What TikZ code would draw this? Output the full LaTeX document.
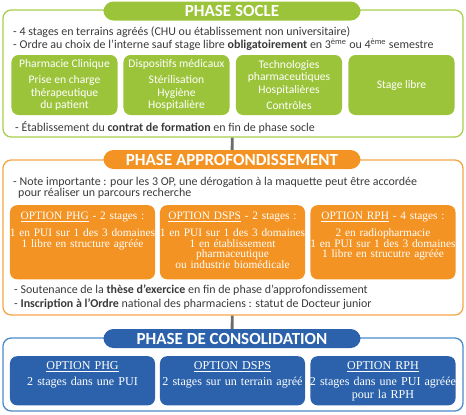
\documentclass[tikz,border=0pt]{standalone}
\usepackage{fontspec}
\setmainfont{Carlito}
\newfontfamily\optfont{Liberation Serif}
\usetikzlibrary{positioning}

\definecolor{socle}{HTML}{9CC43A}
\definecolor{socleline}{HTML}{A8CF4C}
\definecolor{appro}{HTML}{F39323}
\definecolor{approline}{HTML}{F5A546}
\definecolor{conso}{HTML}{2B62AB}
\definecolor{consoline}{HTML}{4A8ACB}
\definecolor{textgrey}{HTML}{3A3A3A}
\definecolor{linkgrey}{HTML}{6B6B6B}

\begin{document}
\begin{tikzpicture}[x=0.03cm, y=-0.03cm,
	frame/.style={draw, line width=1.1pt, rounded corners=7pt, minimum width=13.8cm, inner sep=0pt},
	title/.style={rounded corners=8.5pt, minimum width=7.71cm, minimum height=0.57cm, inner sep=0pt, text=white, font=\fontsize{14.5}{15}\selectfont\bfseries},
	line/.style={anchor=west, inner sep=0pt, text=textgrey, font=\fontsize{10.2}{11}\selectfont},
	soclebox/.style={fill=socle, rounded corners=6pt, minimum width=3.18cm, minimum height=1.8cm, align=center, text=white, inner sep=1pt, font=\fontsize{9.9}{10.7}\selectfont},
	optbox/.style={fill=appro, rounded corners=6pt, text width=5.2cm, inner xsep=-0.425cm, inner ysep=3pt, text height=8.9pt, text depth=48.3pt, align=center, text=white, font=\optfont\fontsize{9.7}{9}\selectfont},
	consobox/.style={fill=conso, rounded corners=6pt, text width=5.2cm, inner xsep=-0.425cm, inner ysep=3pt, text height=8pt, text depth=27.9pt, align=center, text=white, font=\optfont\fontsize{10.3}{11}\selectfont},
	link/.style={draw=linkgrey, line width=2.4pt}]

	\useasboundingbox (0,0) rectangle (466,415);

	% frames
	\node[frame, draw=socleline, minimum height=3.81cm] (socle) at (233,73.5) {};
	\node[frame, draw=approline, minimum height=4.65cm] (appro) at (233,237.5) {};
	\node[frame, draw=consoline, minimum height=2.19cm] (conso) at (233,374.5) {};

	% titles
	\node[title, fill=socle] (socletitle) at (232,11) {PHASE SOCLE};
	\node[title, fill=appro] (approtitle) at (232,159.5) {PHASE APPROFONDISSEMENT};
	\node[title, fill=conso] (consotitle) at (232,338.5) {PHASE DE CONSOLIDATION};

	% phase socle
	\node[line] (s1) at (13,32) {- 4 stages en terrains agréés (CHU ou établissement non universitaire)};
	\node[line] (s2) at (13,45) {- Ordre au choix de l’interne sauf stage libre \textbf{obligatoirement} en 3\textsuperscript{ème} ou 4\textsuperscript{ème} semestre};
	\node[soclebox] (g1) at (64.5,85) {Pharmacie Clinique\\[3pt]Prise en charge\\thérapeutique\\du patient};
	\node[soclebox] (g2) at (176.5,85) {Dispositifs médicaux\\[3pt]Stérilisation\\Hygiène\\Hospitalière};
	\node[soclebox] (g3) at (289,85) {Technologies\\pharmaceutiques\\Hospitalières\\[3pt]Contrôles};
	\node[soclebox] (g4) at (401.5,85) {Stage libre};
	\node[line] (s3) at (15,127) {- Établissement du \textbf{contrat de formation} en fin de phase socle};

	% phase approfondissement
	\node[line] (a1) at (13,182) {- Note importante : pour les 3 OP, une dérogation à la maquette peut être accordée};
	\node[line] (a2) at (18,193) {pour réaliser un parcours recherche};
	\node[optbox, anchor=north] (o1) at (82.5,205) {\underline{OPTION PHG} - 2 stages :\\[6pt]1 en PUI sur 1 des 3 domaines\\1 libre en structure agréée};
	\node[optbox, anchor=north] (o2) at (232.5,205) {\underline{OPTION DSPS} - 2 stages :\\[6pt]1 en PUI sur 1 des 3 domaines\\1 en établissement\\pharmaceutique\\ou industrie biomédicale};
	\node[optbox, anchor=north] (o3) at (383,205) {\underline{OPTION RPH} - 4 stages :\\[6pt]2 en radiopharmacie\\1 en PUI sur 1 des 3 domaines\\1 libre en strucutre agréée};
	\node[line] (a3) at (14,290) {- Soutenance de la \textbf{thèse d’exercice} en fin de phase d’approfondissement};
	\node[line] (a4) at (14,304) {- \textbf{Inscription à l’Ordre} national des pharmaciens : statut de Docteur junior};

	% phase de consolidation
	\node[consobox, anchor=north] (c1) at (82.5,356) {\underline{OPTION PHG}\\[3pt]2 stages dans une PUI};
	\node[consobox, anchor=north] (c2) at (232.5,356) {\underline{OPTION DSPS}\\[3pt]2 stages sur un terrain agréé};
	\node[consobox, anchor=north] (c3) at (383,356) {\underline{OPTION RPH}\\[3pt]2 stages dans une PUI agréée\\pour la RPH};

	\path [link] (socle) edge (approtitle);
	\path [link] (appro) edge (consotitle);
\end{tikzpicture}
\end{document}
